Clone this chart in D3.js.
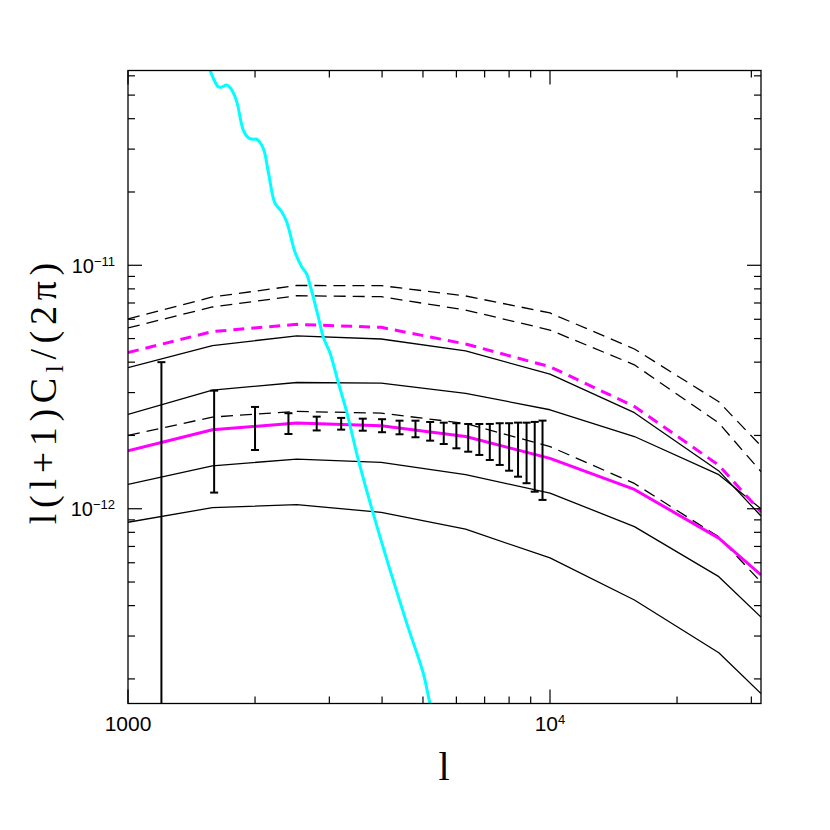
<!DOCTYPE html>
<html><head><meta charset="utf-8">
<script src="https://cdn.jsdelivr.net/npm/d3@7"></script>
<style>body{margin:0;background:#fff}</style>
</head><body>
<svg id="chart" width="830" height="830"></svg>
<script>
// multipole grid of the model curves
const ellGrid = [1000, 1585, 2512, 3981, 6310, 10000, 15849, 25119, 31623];
// model curves (top to bottom)
const dashedA      = [6.02e-12, 7.41e-12, 8.26e-12, 8.25e-12, 7.48e-12, 6.37e-12, 4.53e-12, 2.75e-12, 1.81e-12];
const dashedB      = [5.53e-12, 6.74e-12, 7.50e-12, 7.43e-12, 6.55e-12, 5.42e-12, 3.90e-12, 2.25e-12, 1.42e-12];
const dashedMagenta= [4.38e-12, 5.34e-12, 5.72e-12, 5.56e-12, 4.75e-12, 3.83e-12, 2.63e-12, 1.51e-12, 9.70e-13];
const solidA       = [3.80e-12, 4.68e-12, 5.13e-12, 4.98e-12, 4.45e-12, 3.57e-12, 2.48e-12, 1.43e-12, 9.34e-13];
const solidB       = [2.44e-12, 3.07e-12, 3.30e-12, 3.28e-12, 2.98e-12, 2.55e-12, 1.98e-12, 1.38e-12, 1.00e-12];
const dashedC      = [2.00e-12, 2.38e-12, 2.51e-12, 2.47e-12, 2.24e-12, 1.80e-12, 1.27e-12, 7.66e-13, 5.00e-13];
const solidMagenta = [1.73e-12, 2.11e-12, 2.25e-12, 2.19e-12, 1.98e-12, 1.61e-12, 1.20e-12, 7.57e-13, 5.35e-13];
const solidC       = [1.26e-12, 1.50e-12, 1.60e-12, 1.55e-12, 1.38e-12, 1.16e-12, 8.44e-13, 5.26e-13, 3.59e-13];
const solidD       = [8.80e-13, 1.01e-12, 1.04e-12, 9.66e-13, 8.24e-13, 6.28e-13, 4.22e-13, 2.56e-13, 1.74e-13];

// binned band powers with error bars
const binEll = [1200, 1600, 2000, 2400, 2800, 3200, 3600, 4000, 4400, 4800, 5200, 5600, 6000, 6400, 6800, 7200, 7600, 8000, 8400, 8800, 9200, 9600];
const binVal = [1.88e-12, 2.11e-12, 2.181e-12, 2.248e-12, 2.243e-12, 2.237e-12, 2.218e-12, 2.197e-12, 2.161e-12, 2.133e-12, 2.088e-12, 2.051e-12, 2.008e-12, 1.972e-12, 1.946e-12, 1.908e-12, 1.879e-12, 1.839e-12, 1.806e-12, 1.765e-12, 1.724e-12, 1.694e-12];
const binErr = [2.12e-12, 0.945e-12, 0.438e-12, 0.22e-12, 0.146e-12, 0.124e-12, 0.126e-12, 0.135e-12, 0.139e-12, 0.167e-12, 0.184e-12, 0.206e-12, 0.237e-12, 0.257e-12, 0.283e-12, 0.322e-12, 0.366e-12, 0.406e-12, 0.452e-12, 0.492e-12, 0.549e-12, 0.607e-12];

// primary CMB damping tail (cyan)
const cmbEll = [1539, 1564, 1593, 1637, 1670, 1713, 1761, 1810, 1876, 1928, 1978, 2018, 2092, 2150, 2230, 2313, 2377, 2487, 2580, 2651, 2700, 2824, 2903, 3011, 3150, 3298, 3513, 3800, 4177, 4575, 5009, 5196, 5368];
const cmbVal = [6.97e-11, 6.34e-11, 5.86e-11, 5.41e-11, 5.40e-11, 5.50e-11, 5.25e-11, 4.70e-11, 3.59e-11, 3.34e-11, 3.29e-11, 3.30e-11, 3.02e-11, 2.42e-11, 1.80e-11, 1.66e-11, 1.51e-11, 1.134e-11, 9.87e-12, 9.21e-12, 8.30e-12, 6.15e-12, 5.06e-12, 4.36e-12, 3.30e-12, 2.50e-12, 1.59e-12, 9.73e-13, 5.61e-13, 3.39e-13, 2.11e-13, 1.59e-13, 1.33e-13];

// axes
const xDomain = [1000, 31623];
const yDomain = [1.585e-13, 6.31e-11];
const xMajor = [1000, 10000];
const xMinor = [2000, 3000, 4000, 5000, 6000, 7000, 8000, 9000, 20000, 30000];
const yMajor = [1e-12, 1e-11];
const yMinor = [2e-13, 3e-13, 4e-13, 5e-13, 6e-13, 7e-13, 8e-13, 9e-13, 2e-12, 3e-12, 4e-12, 5e-12, 6e-12, 7e-12, 8e-12, 9e-12, 2e-11, 3e-11, 4e-11, 5e-11, 6e-11];
const xLabels = [{v: 1000, base: "1000", sup: ""}, {v: 10000, base: "10", sup: "4"}];
const yLabels = [{v: 1e-11, base: "10", sup: "\u221211"}, {v: 1e-12, base: "10", sup: "\u221212"}];

const L = 128, R = 761, T = 70.5, B = 703.5;
const svg = d3.select("#chart");
const x = d3.scaleLog().domain(xDomain).range([L, R]);
const y = d3.scaleLog().domain(yDomain).range([B, T]);

svg.append("defs").append("clipPath").attr("id", "clip")
  .append("rect").attr("x", L).attr("y", T).attr("width", R - L).attr("height", B - T);
const plot = svg.append("g").attr("clip-path", "url(#clip)");

const line = d3.line().x(d => x(d[0])).y(d => y(d[1]));
const series = [
  {v: dashedA, c: "#000", w: 1.3, dash: "12,7"},
  {v: dashedB, c: "#000", w: 1.3, dash: "12,7"},
  {v: solidA, c: "#000", w: 1.3, dash: null},
  {v: solidB, c: "#000", w: 1.3, dash: null},
  {v: dashedC, c: "#000", w: 1.3, dash: "12,7"},
  {v: solidC, c: "#000", w: 1.3, dash: null},
  {v: solidD, c: "#000", w: 1.3, dash: null},
  {v: dashedMagenta, c: "#ff00ff", w: 3, dash: "11,7"},
  {v: solidMagenta, c: "#ff00ff", w: 3, dash: null}
];
series.forEach(s => {
  plot.append("path").datum(ellGrid.map((l, i) => [l, s.v[i]]))
    .attr("d", line).attr("fill", "none").attr("stroke", s.c)
    .attr("stroke-width", s.w).attr("stroke-dasharray", s.dash)
    .attr("stroke-linejoin", "round");
});

// error bars
const cap = 4;
binEll.forEach((l, i) => {
  const hi = binVal[i] + binErr[i];
  const lo = binVal[i] - binErr[i];
  const px = x(l);
  const yHi = y(hi);
  const yLo = lo > yDomain[0] ? y(lo) : B + 5;
  const g = plot.append("g").attr("stroke", "#000").attr("stroke-width", 2);
  g.append("line").attr("x1", px).attr("x2", px).attr("y1", yHi).attr("y2", yLo);
  g.append("line").attr("x1", px - cap).attr("x2", px + cap).attr("y1", yHi).attr("y2", yHi);
  if (lo > yDomain[0]) g.append("line").attr("x1", px - cap).attr("x2", px + cap).attr("y1", yLo).attr("y2", yLo);
});

// cyan CMB curve
plot.append("path").datum(cmbEll.map((l, i) => [l, cmbVal[i]]))
  .attr("d", d3.line().x(d => x(d[0])).y(d => y(d[1])).curve(d3.curveCatmullRom.alpha(0.5)))
  .attr("fill", "none").attr("stroke", "#00ffff").attr("stroke-width", 3);

// frame
svg.append("rect").attr("x", L).attr("y", T).attr("width", R - L).attr("height", B - T)
  .attr("fill", "none").attr("stroke", "#000").attr("stroke-width", 1.3);

// ticks
const tg = svg.append("g").attr("stroke", "#000").attr("stroke-width", 1.2);
const tick = (arr, len) => {
  arr.forEach(v => {
    const px = x(v);
    tg.append("line").attr("x1", px).attr("x2", px).attr("y1", B).attr("y2", B - len);
    tg.append("line").attr("x1", px).attr("x2", px).attr("y1", T).attr("y2", T + len);
  });
};
tick(xMajor, 14); tick(xMinor, 7);
const ytick = (arr, len) => {
  arr.forEach(v => {
    const py = y(v);
    tg.append("line").attr("x1", L).attr("x2", L + len).attr("y1", py).attr("y2", py);
    tg.append("line").attr("x1", R).attr("x2", R - len).attr("y1", py).attr("y2", py);
  });
};
ytick(yMajor, 14); ytick(yMinor, 7);

// tick labels
const font = "'Liberation Sans', Arial, sans-serif";
xLabels.forEach(d => {
  const t = svg.append("text").attr("x", x(d.v)).attr("y", 731)
    .attr("text-anchor", "middle").attr("font-family", font).attr("font-size", 21).attr("fill", "#000");
  t.append("tspan").text(d.base);
  if (d.sup) t.append("tspan").attr("dy", -7).attr("font-size", 13).text(d.sup);
});
yLabels.forEach(d => {
  const t = svg.append("text").attr("x", 115).attr("y", y(d.v) + 7.5)
    .attr("text-anchor", "end").attr("font-family", font).attr("font-size", 20).attr("fill", "#000");
  t.append("tspan").text(d.base);
  t.append("tspan").attr("dy", -7).attr("font-size", 13).text(d.sup);
});

// axis titles
const serif = "'Liberation Serif', 'DejaVu Serif', serif";
svg.append("text").attr("x", 444).attr("y", 780).attr("text-anchor", "middle")
  .attr("font-family", serif).attr("font-size", 40).attr("fill", "#000").text("l");

const yt = svg.append("text").attr("text-anchor", "middle")
  .attr("font-family", serif).attr("font-size", 38).attr("fill", "#000")
  .attr("transform", "translate(56,393.5) rotate(-90)");
yt.append("tspan").text("l(l+1)C");
yt.append("tspan").attr("dy", 7).attr("font-size", 25).text("l");
yt.append("tspan").attr("dy", -7).text("/(2\u03c0)");
const len = yt.node().getComputedTextLength();
const nChars = 14;
const spacing = (267 - len) / (nChars - 1);
yt.attr("letter-spacing", spacing).attr("x", spacing / 2);
</script>
</body></html>
